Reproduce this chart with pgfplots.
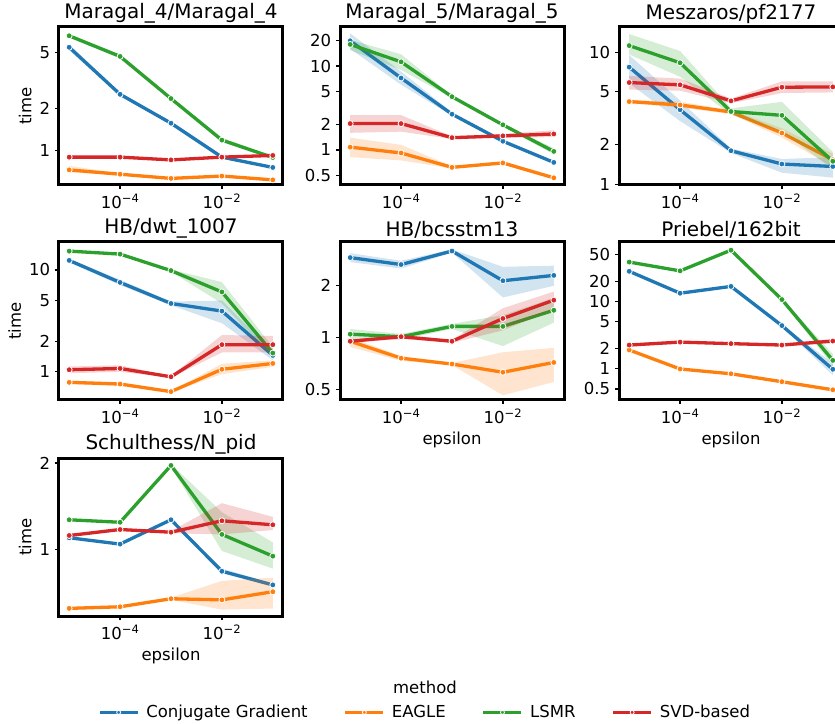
\documentclass[border=0pt]{standalone}
\usepackage{fontspec}
\setmainfont{DejaVu Sans}
\usepackage{pgfplots}
\usepackage{pgfplotstable}
\pgfplotsset{compat=1.18}

\definecolor{cCG}{HTML}{1F77B4}
\definecolor{cEA}{HTML}{FF7F0E}
\definecolor{cLS}{HTML}{2CA02C}
\definecolor{cSV}{HTML}{D62728}

% each panel: mean table, and band table (low values forward, high values back)
\pgfplotstableread{
x     cg   ea    ls    sv
1e-5  5.45 0.73  6.58  0.90
1e-4  2.52 0.68  4.69  0.90
1e-3  1.57 0.635 2.35  0.86
1e-2  0.90 0.66  1.19  0.90
1e-1  0.76 0.62  0.895 0.925
}\mA
\pgfplotstableread{
x     cg   ea    ls    sv
1e-5  5.2  0.70  6.4   0.88
1e-4  2.45 0.67  4.55  0.89
1e-3  1.54 0.63  2.3   0.85
1e-2  0.88 0.65  1.15  0.89
1e-1  0.75 0.61  0.87  0.91
1e-1  0.77 0.63  0.91  0.94
1e-2  0.92 0.67  1.24  0.91
1e-3  1.6  0.64  2.4   0.87
1e-4  2.6  0.69  4.85  0.91
1e-5  5.7  0.78  6.75  0.92
}\bA

\pgfplotstableread{
x     cg   ea    ls    sv
1e-5  20   1.08  18.1  2.06
1e-4  7.2  0.92  11.2  2.06
1e-3  2.67 0.62  4.31  1.40
1e-2  1.27 0.70  1.99  1.47
1e-1  0.71 0.465 0.96  1.55
}\mB
\pgfplotstableread{
x     cg   ea    ls    sv
1e-5  16   0.82  15.5  1.6
1e-4  6.0  0.75  9.0   1.65
1e-3  2.55 0.60  4.15  1.35
1e-2  1.22 0.67  1.92  1.40
1e-1  0.69 0.45  0.88  1.42
1e-1  0.74 0.48  1.05  1.72
1e-2  1.32 0.73  2.06  1.55
1e-3  2.8  0.64  4.45  1.45
1e-4  8.6  1.15  13.8  2.6
1e-5  24.5 1.4   20.5  2.6
}\bB

\pgfplotstableread{
x     cg   ea    ls    sv
1e-5  7.7  4.22  11.2  5.88
1e-4  3.66 3.98  8.3   5.65
1e-3  1.79 3.52  3.55  4.27
1e-2  1.42 2.44  3.32  5.42
1e-1  1.36 1.53  1.49  5.45
}\mC
\pgfplotstableread{
x     cg   ea    ls    sv
1e-5  5.8  4.1   9.6   5.2
1e-4  3.0  3.8   6.5   5.1
1e-3  1.72 3.4   3.35  4.1
1e-2  1.22 2.25  2.5   4.9
1e-1  1.12 1.35  1.3   4.95
1e-1  1.6  1.7   1.75  6.0
1e-2  1.55 2.65  4.2   6.0
1e-3  1.86 3.65  3.75  4.45
1e-4  4.3  4.2   10.2  6.3
1e-5  9.5  4.35  13.7  6.6
}\bC

\pgfplotstableread{
x     cg   ea    ls    sv
1e-5  12.4 0.79  15.3  1.05
1e-4  7.54 0.76  14.3  1.08
1e-3  4.69 0.64  9.85  0.895
1e-2  3.95 1.06  6.08  1.85
1e-1  1.45 1.21  1.53  1.85
}\mD
\pgfplotstableread{
x     cg   ea    ls    sv
1e-5  11.9 0.76  15.0  0.97
1e-4  7.1  0.73  14.0  1.0
1e-3  4.5  0.63  9.6   0.88
1e-2  3.0  0.95  4.7   1.55
1e-1  1.3  1.12  1.35  1.55
1e-1  1.6  1.3   1.75  2.25
1e-2  5.0  1.2   7.6   2.3
1e-3  4.9  0.65  10.1  0.91
1e-4  8.0  0.79  14.6  1.16
1e-5  12.9 0.82  15.6  1.13
}\bD

\pgfplotstableread{
x     cg   ea    ls    sv
1e-5  2.92 0.95  1.045 0.95
1e-4  2.66 0.757 1.01  1.01
1e-3  3.19 0.70  1.16  0.95
1e-2  2.14 0.627 1.16  1.29
1e-1  2.30 0.715 1.44  1.65
}\mE
\pgfplotstableread{
x     cg   ea    ls    sv
1e-5  2.75 0.88  0.97  0.93
1e-4  2.52 0.73  0.97  0.98
1e-3  3.12 0.69  1.12  0.93
1e-2  1.71 0.46  0.89  1.1
1e-1  2.0  0.55  1.22  1.45
1e-1  2.62 0.87  1.7   1.85
1e-2  2.58 0.82  1.35  1.48
1e-3  3.26 0.71  1.2   0.97
1e-4  2.8  0.78  1.05  1.04
1e-5  3.1  1.0   1.12  0.97
}\bE

\pgfplotstableread{
x     cg   ea    ls    sv
1e-5  28.2 1.90  38.7  2.25
1e-4  13.3 0.99  28.6  2.49
1e-3  16.8 0.84  58.2  2.36
1e-2  4.38 0.64  10.7  2.25
1e-1  0.98 0.485 1.33  2.58
}\mF
\pgfplotstableread{
x     cg   ea    ls    sv
1e-5  27   1.85  37    2.15
1e-4  12.8 0.96  27.5  2.38
1e-3  16.2 0.82  56    2.28
1e-2  4.2  0.62  10.2  2.18
1e-1  0.8  0.46  1.1   2.4
1e-1  1.2  0.51  1.65  2.78
1e-2  4.55 0.66  11.2  2.32
1e-3  17.4 0.86  60.5  2.44
1e-4  13.8 1.02  29.7  2.6
1e-5  29.5 1.95  40.5  2.35
}\bF

\pgfplotstableread{
x     cg    ea    ls    sv
1e-5  1.10  0.626 1.27  1.12
1e-4  1.046 0.634 1.245 1.175
1e-3  1.27  0.676 1.96  1.15
1e-2  0.842 0.67  1.13  1.26
1e-1  0.755 0.715 0.95  1.22
}\mG
\pgfplotstableread{
x     cg    ea    ls    sv
1e-5  1.09  0.62  1.26  1.11
1e-4  1.04  0.628 1.235 1.165
1e-3  1.26  0.67  1.94  1.14
1e-2  0.83  0.62  0.99  1.13
1e-1  0.745 0.625 0.86  1.17
1e-1  0.765 0.8   1.06  1.3
1e-2  0.86  0.78  1.35  1.45
1e-3  1.28  0.682 1.98  1.16
1e-4  1.055 0.64  1.255 1.185
1e-5  1.11  0.632 1.28  1.13
}\bG

\newcommand{\beginpanel}[1]{%
  \begin{axis}[xmode=log, ymode=log,
    anchor=north west, scale only axis, width=224pt, height=158pt,
    xmin=6.31e-6, xmax=0.1585,
    xtick={1e-4,1e-2},
    xticklabels={10\textsuperscript{−4},10\textsuperscript{−2}},
    xminorticks=false, yminorticks=false,
    line width=3pt,
    axis line style={line width=3pt},
    tick align=outside, major tick length=4pt,
    tick style={line width=1.2pt, black},
    xtick pos=left, ytick pos=left,
    tick label style={font=\fontsize{16.5}{16.5}\selectfont},
    label style={font=\fontsize{16.5}{17}\selectfont},
    title style={font=\fontsize{20}{20}\selectfont, yshift=-7.5pt},
    #1]}

\pgfplotsset{
  thickline/.style={color=#1, line width=3.3pt, line join=round, mark=*, mark size=3pt,
    mark options={draw=white, line width=0.8pt, fill=#1}},
}

% #1 mean table, #2 band table, #3 column, #4 colour
\newcommand{\series}[4]{%
  \addplot[fill=#4, fill opacity=0.2, draw=none, forget plot] table[x=x, y=#3] {#2};
  \addplot[thickline=#4] table[x=x, y=#3] {#1};
}
\newcommand{\allseries}[2]{%
  \series{#1}{#2}{cg}{cCG}\series{#1}{#2}{ea}{cEA}%
  \series{#1}{#2}{ls}{cLS}\series{#1}{#2}{sv}{cSV}}

\begin{document}
\begin{tikzpicture}
\path[use as bounding box] (0pt,0pt) rectangle (835pt,723pt);

\beginpanel{at={(59pt,696pt)}, title={Maragal\_4/Maragal\_4},
  ylabel={time}, ymin=0.57, ymax=7.6, ytick={1,2,5}, yticklabels={1,2,5}}
\allseries{\mA}{\bA}
\end{axis}

\beginpanel{at={(340pt,696pt)}, title={Maragal\_5/Maragal\_5},
  ymin=0.382, ymax=29.2, ytick={0.5,1,2,5,10,20}, yticklabels={0.5,1,2,5,10,20}}
\allseries{\mB}{\bB}
\end{axis}

\beginpanel{at={(619pt,696pt)}, title={Meszaros/pf2177},
  ymin=0.985, ymax=15.5, ytick={1,2,5,10}, yticklabels={1,2,5,10}}
\allseries{\mC}{\bC}
\end{axis}

\beginpanel{at={(59pt,481pt)}, title={HB/dwt\_1007},
  ylabel={time}, ymin=0.53, ymax=18.8, ytick={1,2,5,10}, yticklabels={1,2,5,10}}
\allseries{\mD}{\bD}
\end{axis}

\beginpanel{at={(340pt,481pt)}, title={HB/bcsstm13}, xlabel={epsilon},
  ymin=0.432, ymax=3.6, ytick={0.5,1,2}, yticklabels={0.5,1,2}}
\allseries{\mE}{\bE}
\end{axis}

\beginpanel{at={(619pt,481pt)}, title={Priebel/162bit}, xlabel={epsilon},
  ymin=0.342, ymax=77, ytick={0.5,1,2,5,10,20,50}, yticklabels={0.5,1,2,5,10,20,50}}
\allseries{\mF}{\bF}
\end{axis}

\beginpanel{at={(59pt,265pt)}, title={Schulthess/N\_pid}, xlabel={epsilon},
  ylabel={time}, ymin=0.589, ymax=2.08, ytick={1,2}, yticklabels={1,2},
  clip=false,
  legend columns=4,
  legend style={at={(1.634,-0.61)}, anchor=center, draw=none, fill=none,
    font=\fontsize{16.5}{16.5}\selectfont,
    /tikz/every odd column/.append style={column sep=5pt},
    /tikz/every even column/.append style={column sep=34pt}},
  legend image code/.code={\draw[mark repeat=2, mark phase=2, mark size=2pt]
    plot coordinates {(0pt,0pt) (19pt,0pt) (38pt,0pt)};}}
\allseries{\mG}{\bG}
\legend{Conjugate Gradient, EAGLE, LSMR, SVD-based}
\node[font=\fontsize{16.5}{16.5}\selectfont] at (axis description cs:1.634,-0.449) {method};
\end{axis}
\end{tikzpicture}
\end{document}
